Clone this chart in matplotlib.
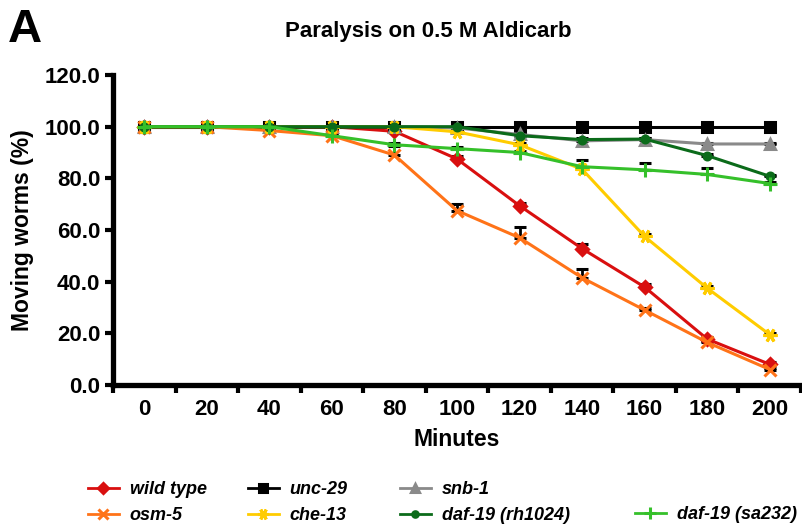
import numpy as np
import matplotlib
matplotlib.use('Agg')
import matplotlib.pyplot as plt

plt.rcParams['font.family'] = ['Liberation Sans', 'DejaVu Sans']
plt.rcParams['font.weight'] = 'bold'

# data
minutes = [0, 20, 40, 60, 80, 100, 120, 140, 160, 180, 200]

wild_type = [100, 100, 100, 100, 98.2, 87.5, 69.4, 52.8, 37.9, 17.8, 8.0]
wild_type_err = [1.5, 1.5, 0.5, 0.5, 1.0, 1.0, 1.0, 1.8, 1.2, 0.8, 0.8]
unc_29 = [100, 100, 100, 100, 100, 100, 100, 100, 100, 100, 100]
unc_29_err = [1.5, 1.5, 0.5, 0.5, 0.5, 0.5, 0.5, 0.5, 0.5, 0.5, 0.5]
snb_1 = [100, 100, 100, 100, 100, 99.5, 97.0, 94.5, 95.0, 93.3, 93.3]
snb_1_err = [1.0, 1.0, 0.5, 0.5, 0.5, 0.5, 0.5, 0.5, 0.5, 0.5, 0.5]
osm_5 = [100, 100, 98.5, 96.5, 89.0, 67.5, 57.0, 41.5, 29.0, 16.5, 6.0]
osm_5_err = [1.0, 1.0, 0.5, 0.5, 3.5, 2.5, 4.0, 3.3, 1.0, 0.5, 0.5]
che_13 = [100, 100, 100, 100, 100, 98.0, 93.0, 83.5, 57.5, 37.5, 19.5]
che_13_err = [1.0, 1.0, 0.5, 0.5, 0.5, 0.5, 0.5, 0.8, 0.8, 0.8, 0.8]
daf19_rh = [100, 100, 100, 100, 100, 100, 96.5, 95.0, 95.2, 88.8, 80.8]
daf19_rh_err = [0.5, 0.5, 0.5, 0.5, 0.5, 0.5, 0.5, 0.5, 0.5, 0.5, 0.5]
daf19_sa = [100, 100, 100, 96.5, 93.0, 91.5, 90.0, 84.5, 83.3, 81.5, 78.0]
daf19_sa_err = [0.5, 0.5, 0.5, 0.5, 0.5, 0.5, 0.5, 2.7, 2.7, 2.5, 0.5]

labels = ['wild type', 'unc-29', 'snb-1', 'osm-5', 'che-13',
          'daf-19 (rh1024)', 'daf-19 (sa232)']
colors = ['#d90f0f', '#000000', '#8a8a8a', '#ff7318', '#ffcc00',
          '#0b6b1a', '#35c02a']
markers = ['D', 's', '^', 'x', (6, 2, 90), 'o', '+']
msizes = [6, 7, 7, 9, 10, 5, 10]
series = [wild_type, unc_29, snb_1, osm_5, che_13, daf19_rh, daf19_sa]
errors = [wild_type_err, unc_29_err, snb_1_err, osm_5_err, che_13_err,
          daf19_rh_err, daf19_sa_err]

fig = plt.figure(figsize=(8.03, 5.30), dpi=100)
ax = fig.add_axes([113/803, 1 - 385/530, 688/803, 310/530])

handles = []
for i in range(len(series)):
    ax.errorbar(minutes, series[i], yerr=[np.zeros(len(minutes)), errors[i]],
                fmt='none', ecolor='black', elinewidth=2, capsize=4,
                capthick=2.2, zorder=2)
    h, = ax.plot(minutes, series[i], color=colors[i], marker=markers[i],
                 markersize=msizes[i], markeredgewidth=2.2, linewidth=2.2,
                 label=labels[i], zorder=3 + i, clip_on=False)
    handles.append(h)

ax.set_xlim(-10, 210)
ax.set_ylim(0, 120)
ax.set_yticks(np.arange(0, 121, 20))
ax.set_yticklabels(['%.1f' % v for v in np.arange(0, 121, 20)])
# major ticks sit between the labels, labels go on minor ticks
ax.set_xticks(np.arange(-10, 211, 20))
ax.set_xticklabels([])
ax.set_xticks(minutes, minor=True)
ax.set_xticklabels([str(m) for m in minutes], minor=True)
ax.tick_params(axis='x', which='minor', length=0, labelsize=16, pad=10)
ax.tick_params(axis='both', which='major', length=6, width=3, labelsize=16)
ax.tick_params(axis='y', pad=3)
for s in ['top', 'right']:
    ax.spines[s].set_visible(False)
for s in ['left', 'bottom']:
    ax.spines[s].set_linewidth(3.8)

ax.set_xlabel('Minutes', fontsize=16.5, fontweight='bold', labelpad=6)
ax.set_ylabel('Moving worms (%)', fontsize=16.5, fontweight='bold', labelpad=8)

fig.text(428/803, 1 - 32/530, 'Paralysis on 0.5 M Aldicarb', ha='center',
         va='center', fontsize=16, fontweight='bold')
fig.text(8/803, 1 - 30/530, 'A', ha='left', va='center', fontsize=34,
         fontweight='bold')

# legend, placed column by column like the original
leg_cols = [([0, 3], 88), ([1, 4], 248), ([2, 5], 400), ([6], 635)]
for idx, xpix in leg_cols:
    ypix = 481 if idx[0] != 6 else 506
    leg = fig.legend([handles[k] for k in idx], [labels[k] for k in idx],
                     loc='upper left', bbox_to_anchor=(xpix/803, 1 - ypix/530),
                     frameon=False, borderpad=0, borderaxespad=0,
                     handlelength=1.7, handletextpad=0.6, labelspacing=0.52,
                     prop={'family': ['Liberation Sans', 'DejaVu Sans'],
                           'style': 'italic', 'weight': 'bold', 'size': 13},
                     markerscale=0.8)
    for lh in leg.legend_handles:
        lh.set_linewidth(2)

fig.savefig('out.png', dpi=100)
